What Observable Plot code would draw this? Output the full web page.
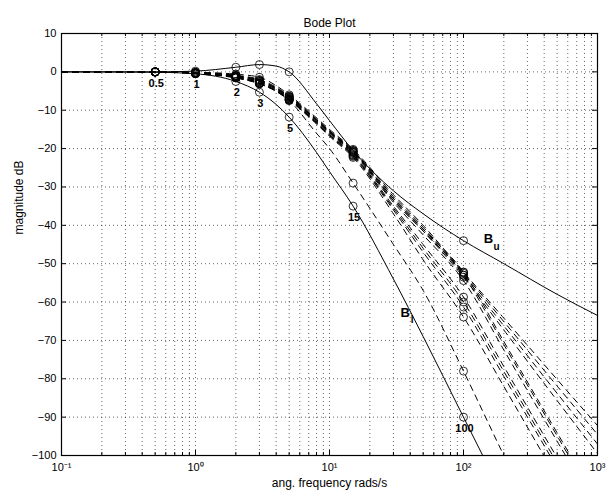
<!DOCTYPE html>
<html><head><meta charset="utf-8">
<script src="https://cdn.jsdelivr.net/npm/d3@7"></script>
<script src="https://cdn.jsdelivr.net/npm/@observablehq/plot@0.6"></script>
<style>
body{margin:0;background:#fff;}
#chart svg{font-family:"Liberation Sans", Arial, Helvetica, sans-serif;}
</style></head><body><div id="chart"></div>
<script>
// frequency samples (rad/s)
const freqs = [0.1, 0.5, 1, 2, 3, 4, 5, 8, 10, 15, 30, 50, 100, 200, 500, 1000];
// bounds
const boundUpper = [0, 0, 0.2, 1.2, 1.9, 1.5, 0, -8.3, -12.7, -20.5, -31, -37, -44, -50, -58, -63.5];
const boundLower = [0, -0.1, -0.5, -2.5, -5.3, -8.5, -11.8, -21, -26, -35, -54, -69, -90, -111, -139, -160];
// closed-loop responses (dashed)
const respA = [0, 0, -0.1, -0.6, -1.4, -3.6, -6.0, -12.0, -15.0, -20.2, -32.0, -40.0, -52.2, -64.2, -80.2, -92.2];
const respB = [0, 0, -0.2, -0.9, -2.0, -4.0, -6.3, -12.3, -15.3, -20.5, -32.5, -40.5, -52.5, -65.1, -81.9, -94.5];
const respC = [0, 0, -0.2, -1.0, -2.2, -4.2, -6.5, -12.5, -15.5, -20.8, -33.0, -41.0, -53.0, -66.2, -83.8, -97.0];
const respD = [0, 0, -0.3, -1.2, -2.5, -4.5, -6.7, -12.7, -15.7, -21.0, -33.5, -41.5, -53.5, -67.3, -85.7, -99.5];
const respE = [0, 0, -0.2, -1.0, -2.3, -4.3, -6.5, -12.5, -15.5, -20.7, -33.0, -41.0, -52.2, -70.3, -94.1, -112];
const respF = [0, 0, -0.3, -1.2, -2.6, -4.6, -6.8, -12.8, -15.8, -21.0, -33.5, -41.5, -53.0, -71.1, -94.9, -113];
const respG = [0, 0, -0.3, -1.3, -2.8, -4.8, -7.0, -13.0, -16.0, -21.3, -34.0, -42.5, -54.4, -72.5, -96.3, -114];
const respH = [0, 0, -0.4, -1.4, -2.9, -4.9, -7.1, -13.2, -16.3, -21.6, -35.0, -45.0, -58.7, -76.8, -100.6, -118];
const respI = [0, 0, -0.4, -1.5, -3.0, -5.0, -7.2, -13.3, -16.4, -21.8, -35.5, -46.0, -60.0, -78.1, -102, -120];
const respJ = [0, 0, -0.4, -1.5, -3.0, -5.0, -7.3, -13.4, -16.6, -22.0, -36.0, -47.0, -61.3, -79.4, -103.2, -121];
const respK = [0, 0, -0.5, -1.6, -3.1, -5.1, -7.4, -13.6, -16.8, -22.3, -37.0, -49.0, -63.9, -82.0, -106, -124];
const respL = [0, 0, -0.3, -1.5, -3.1, -5.0, -7.5, -16.0, -20.0, -29.0, -45.0, -57.0, -78.0, -100, -128, -150];

const markerFreqs = [0.5, 1, 2, 3, 5, 15, 100];
const markerLabels = ["0.5", "1", "2", "3", "5", "15", "100"];
const xMajorTicks = [0.1, 1, 10, 100, 1000];
const xTickLabels = ["10\u207B\u00B9", "10\u2070", "10\u00B9", "10\u00B2", "10\u00B3"];
const xMinorTicks = [0.2,0.3,0.4,0.5,0.6,0.7,0.8,0.9, 2,3,4,5,6,7,8,9, 20,30,40,50,60,70,80,90, 200,300,400,500,600,700,800,900];
const yTicks = [10, 0, -10, -20, -30, -40, -50, -60, -70, -80, -90, -100];

const solidSeries = [["Bu", boundUpper], ["Bl", boundLower]];
const dashedSeries = [["A", respA], ["B", respB], ["C", respC], ["D", respD], ["E", respE], ["F", respF],
  ["G", respG], ["H", respH], ["I", respI], ["J", respJ], ["K", respK], ["L", respL]];

const toRows = (list) => list.flatMap(([name, vals]) => freqs.map((f, i) => ({name, f, db: vals[i]})));
const solidRows = toRows(solidSeries);
const dashedRows = toRows(dashedSeries);
const allRows = solidRows.concat(dashedRows);
const markerRows = allRows.filter(d => markerFreqs.includes(d.f));
const lowerMarkerRows = solidRows.filter(d => d.name === "Bl" && markerFreqs.includes(d.f))
  .map(d => ({...d, label: markerLabels[markerFreqs.indexOf(d.f)]}));
const upperAt100 = solidRows.filter(d => d.name === "Bu" && d.f === 100);
const lowerAt50 = solidRows.filter(d => d.name === "Bl" && d.f === 50);
const xTickRows = xMajorTicks.map((v, i) => ({v, label: xTickLabels[i]}));

const W = 607, H = 492, mL = 61, mR = 10, mT = 33, mB = 37;
const iW = W - mL - mR, iH = H - mT - mB;
const grid = {stroke: "#000", strokeOpacity: 0.75, strokeWidth: 0.8, strokeDasharray: "1,3"};
const font = "Liberation Sans, Arial, Helvetica, sans-serif";

const chart = Plot.plot({
  width: W, height: H,
  marginLeft: mL, marginRight: mR, marginTop: mT, marginBottom: mB,
  style: {fontFamily: font, fontSize: "11px", background: "#fff"},
  x: {type: "log", domain: [0.1, 1000], axis: null},
  y: {domain: [-100, 10]},
  marks: [
    Plot.ruleX(xMinorTicks, grid),
    Plot.ruleX(xMajorTicks.slice(1, -1), grid),
    Plot.ruleY(yTicks.slice(1, -1), grid),
    Plot.line(dashedRows, {x: "f", y: "db", z: "name", curve: "monotone-x", stroke: "#000", strokeWidth: 1, strokeDasharray: "6,5", clip: true}),
    Plot.line(solidRows, {x: "f", y: "db", z: "name", curve: "monotone-x", stroke: "#000", strokeWidth: 1, clip: true}),
    Plot.dot(markerRows, {x: "f", y: "db", r: 4, stroke: "#000", strokeWidth: 0.8, fill: "none", clip: true}),
    Plot.text(lowerMarkerRows, {x: "f", y: "db", text: "label", dy: 11, dx: 1, fontWeight: "bold", fontSize: 11}),
    Plot.text(upperAt100, {x: "f", y: "db", text: () => "B", dx: 25, dy: -2, fontWeight: "bold", fontSize: 13}),
    Plot.text(upperAt100, {x: "f", y: "db", text: () => "u", dx: 33, dy: 6, fontWeight: "bold", fontSize: 10}),
    Plot.text(lowerAt50, {x: "f", y: "db", text: () => "B", dx: -18, dy: -24, fontWeight: "bold", fontSize: 13}),
    Plot.text(lowerAt50, {x: "f", y: "db", text: () => "l", dx: -11, dy: -17, fontWeight: "bold", fontSize: 10}),
    // inward ticks
    Plot.ruleY(yTicks, {stroke: "#000", insetRight: iW - 5}),
    Plot.ruleY(yTicks, {stroke: "#000", insetLeft: iW - 5}),
    Plot.ruleX(xMajorTicks, {stroke: "#000", insetTop: iH - 5}),
    Plot.ruleX(xMajorTicks, {stroke: "#000", insetBottom: iH - 5}),
    Plot.ruleX(xMinorTicks, {stroke: "#000", insetTop: iH - 3}),
    Plot.ruleX(xMinorTicks, {stroke: "#000", insetBottom: iH - 3}),
    Plot.frame({stroke: "#000", strokeWidth: 1.2}),
    Plot.text(xTickRows, {x: "v", frameAnchor: "bottom", dy: 15, text: "label", fontSize: 11}),
    Plot.axisY({ticks: yTicks, tickSize: 0, tickPadding: 5, label: null, fontSize: 11}),
    Plot.text(["Bode Plot"], {frameAnchor: "top", dy: -15, text: d => d, fontSize: 12}),
    Plot.text(["ang. frequency rads/s"], {frameAnchor: "bottom", dy: 31, text: d => d, fontSize: 12}),
    Plot.text(["magnitude dB"], {frameAnchor: "left", dx: -42, dy: -10, rotate: -90, text: d => d, fontSize: 12})
  ]
});
document.getElementById("chart").appendChild(chart);
</script></body></html>
